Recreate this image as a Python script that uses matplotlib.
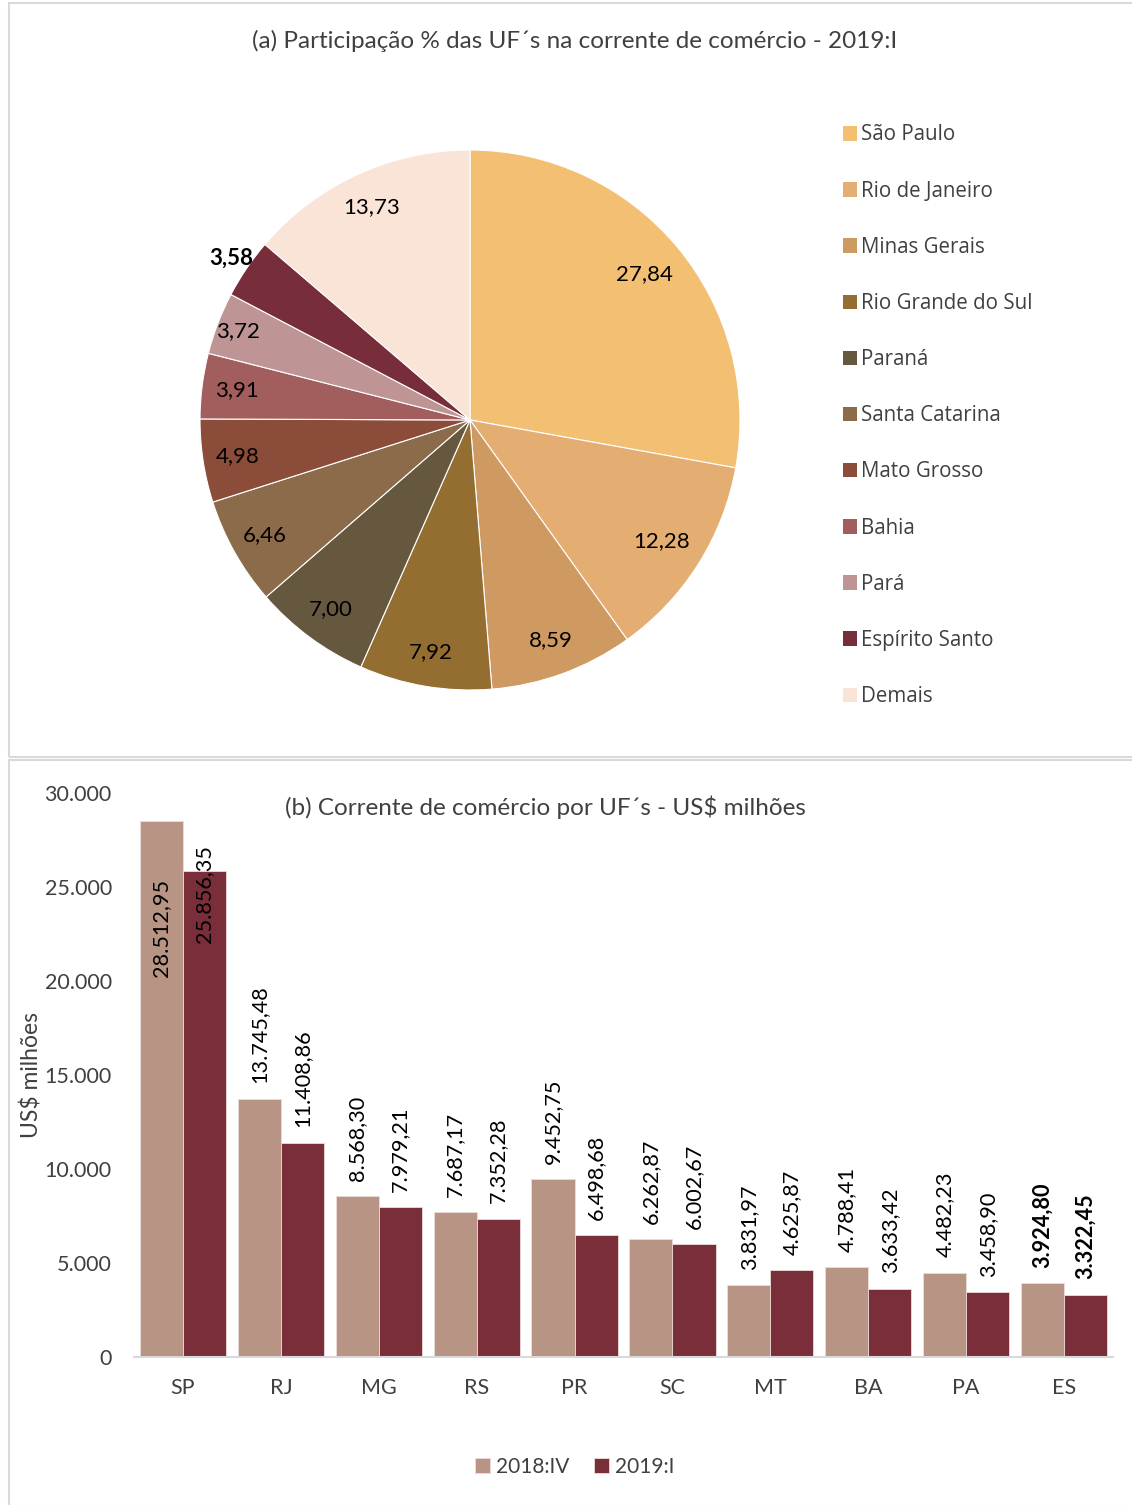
import numpy as np
import matplotlib
matplotlib.use("Agg")
import matplotlib.pyplot as plt
from matplotlib.patches import Rectangle, Patch

plt.rcParams["font.family"] = ["Lato", "DejaVu Sans"]

# data
uf_names = ["São Paulo", "Rio de Janeiro", "Minas Gerais", "Rio Grande do Sul",
            "Paraná", "Santa Catarina", "Mato Grosso", "Bahia", "Pará",
            "Espírito Santo", "Demais"]
uf_share = [27.84, 12.28, 8.59, 7.92, 7.00, 6.46, 4.98, 3.91, 3.72, 3.58, 13.73]
pie_colors = ["#F3C073", "#E4AE72", "#CE9A62", "#946E30", "#66573F", "#8B6B4A",
              "#8B4C3A", "#A25E5C", "#BE9594", "#782E3A", "#FAE4D7"]

uf_codes = ["SP", "RJ", "MG", "RS", "PR", "SC", "MT", "BA", "PA", "ES"]
trade_2018iv = [28512.95, 13745.48, 8568.30, 7687.17, 9452.75, 6262.87,
                3831.97, 4788.41, 4482.23, 3924.80]
trade_2019i = [25856.35, 11408.86, 7979.21, 7352.28, 6498.68, 6002.67,
               4625.87, 3633.42, 3458.90, 3322.45]
bar_colors = ["#B79484", "#7A2E3A"]
series_names = ["2018:IV", "2019:I"]

W, H = 1132, 1505
fig = plt.figure(figsize=(W / 100, H / 100), dpi=100)


def fx(px):
    return px / W


def fy(py):
    return 1 - py / H


def br(n):
    s = "{:,.2f}".format(n)
    return s.replace(",", "X").replace(".", ",").replace("X", ".")


# panel frames
for top, bot in [(3, 757), (760, 1506)]:
    fig.patches.append(Rectangle((fx(9), fy(bot)), fx(W + 5) - fx(9), fy(top) - fy(bot),
                                 transform=fig.transFigure, fill=False,
                                 edgecolor="#D9D9D9", lw=1.5))

# ---- (a) pie
cx, cy, r = 470, 420, 270
axp = fig.add_axes([fx(cx - r), fy(cy + r), fx(2 * r), (2 * r) / H])
wedges, _ = axp.pie(uf_share, colors=pie_colors, startangle=90, counterclock=False,
                    wedgeprops=dict(edgecolor="white", linewidth=0.8))
axp.set_xlim(-1, 1)
axp.set_ylim(-1, 1)
axp.set_aspect("auto")
for i, (w, v) in enumerate(zip(wedges, uf_share)):
    ang = np.deg2rad((w.theta1 + w.theta2) / 2)
    d = 0.84 if i < 2 else 0.87
    bold = "normal"
    if i == 8:
        d = 0.92
    if i == 9:
        d = 1.07
        bold = "bold"
    axp.text(d * np.cos(ang), d * np.sin(ang), "{:.2f}".format(v).replace(".", ","),
             ha="center", va="center", fontsize=16, fontweight=bold, color="black")

fig.text(fx(575), fy(41), "(a) Participação % das UF´s na corrente de comércio - 2019:I",
         ha="center", va="center", fontsize=17.5, color="#404040")

handles = [Patch(facecolor=c, edgecolor="none") for c in pie_colors]
fig.legend(handles, uf_names, loc="upper left", bbox_to_anchor=(fx(824), fy(106)),
           frameon=False, labelcolor="#404040", handlelength=0.7,
           handleheight=0.7, handletextpad=0.2, labelspacing=1.71,
           prop={"family": ["Open Sans", "DejaVu Sans"], "size": 14.8})

# ---- (b) bars
axb = fig.add_axes([fx(134), fy(1357), fx(1113 - 134), (1357 - 793) / H])
x = np.arange(len(uf_codes))
bw = 0.44
for k, (vals, col) in enumerate(zip([trade_2018iv, trade_2019i], bar_colors)):
    off = (k - 0.5) * bw
    axb.bar(x + off, vals, width=bw, color=col, edgecolor="#EBDDD8", linewidth=0.6,
            label=series_names[k])
    for i, v in enumerate(vals):
        weight = "bold" if uf_codes[i] == "ES" else "normal"
        if i == 0:
            # SP labels sit inside the bars
            yoff = -77 if k == 0 else -17
            axb.annotate(br(v), (x[i] + off, v), xytext=(0, yoff), textcoords="offset points",
                         rotation=90, ha="center", va="center", fontsize=15.6, color="black")
        else:
            axb.annotate(br(v), (x[i] + off, v), xytext=(0, 11), textcoords="offset points",
                         rotation=90, ha="center", va="bottom", fontsize=15.6,
                         fontweight=weight, color="black")

axb.set_xlim(-0.5, len(uf_codes) - 0.5)
axb.set_ylim(0, 30000)
axb.set_yticks(range(0, 30001, 5000))
axb.set_yticklabels([br(t).split(",")[0] for t in range(0, 30001, 5000)])
axb.set_xticks(x)
axb.set_xticklabels(uf_codes)
axb.tick_params(axis="both", length=0, labelsize=15.5, labelcolor="#404040")
axb.tick_params(axis="y", pad=16)
axb.tick_params(axis="x", pad=15)
for s in ["top", "right", "left"]:
    axb.spines[s].set_visible(False)
axb.spines["bottom"].set_color("#D9D9D9")
axb.spines["bottom"].set_linewidth(1.5)
axb.set_ylabel("US$ milhões", fontsize=16.5, color="#404040")
axb.yaxis.set_label_coords(fx(42 - 134) / fx(1113 - 134), (1357 - 1075) / (1357 - 793))

fig.text(fx(545), fy(807), "(b) Corrente de comércio por UF´s - US$ milhões",
         ha="center", va="center", fontsize=17.5, color="#404040")

fig.legend(loc="center", bbox_to_anchor=(fx(575), fy(1467)), ncol=2, frameon=False,
           handlelength=0.7, handleheight=0.7, handletextpad=0.3, columnspacing=1.2,
           prop={"family": ["Lato", "DejaVu Sans"], "size": 15}, labelcolor="#404040")

fig.savefig("out.png", dpi=100, facecolor="white")
